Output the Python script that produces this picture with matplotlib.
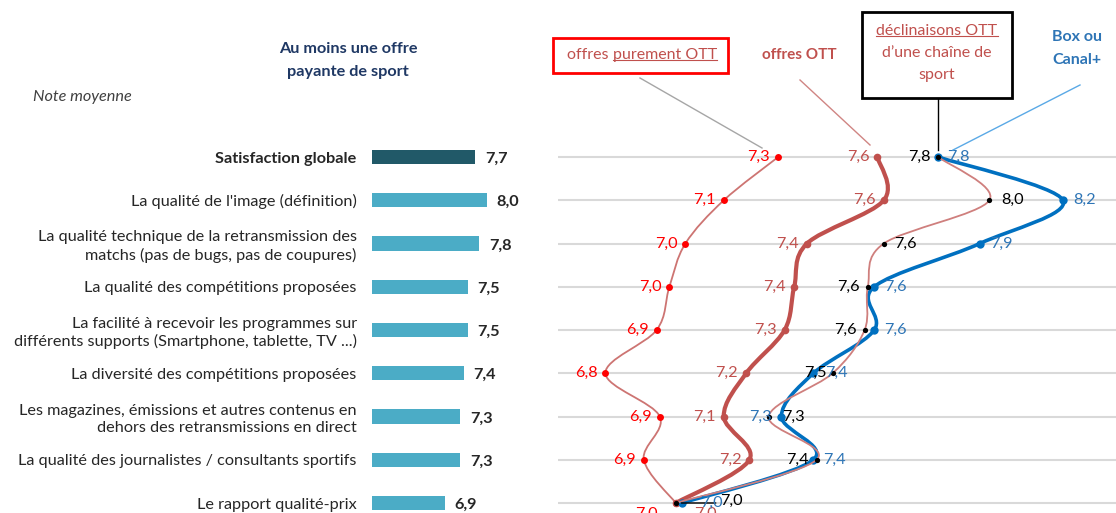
import matplotlib
matplotlib.use("Agg")
import matplotlib.pyplot as plt
from matplotlib.path import Path
from matplotlib.patches import PathPatch, Rectangle
from matplotlib.lines import Line2D
import numpy as np

# ---------------- data ----------------
categories = [
    "Satisfaction globale",
    "La qualité de l'image (définition)",
    "La qualité technique de la retransmission des\nmatchs (pas de bugs, pas de coupures)",
    "La qualité des compétitions proposées",
    "La facilité à recevoir les programmes sur\ndifférents supports (Smartphone, tablette, TV ...)",
    "La diversité des compétitions proposées",
    "Les magazines, émissions et autres contenus en\ndehors des retransmissions en direct",
    "La qualité des journalistes / consultants sportifs",
    "Le rapport qualité-prix",
]
overall = [7.7, 8.0, 7.8, 7.5, 7.5, 7.4, 7.3, 7.3, 6.9]

pure_ott = [7.31, 7.14, 7.02, 6.97, 6.93, 6.77, 6.94, 6.89, 6.99]
ott = [7.62, 7.64, 7.40, 7.36, 7.33, 7.21, 7.14, 7.22, 6.99]
declin = [7.81, 7.97, 7.64, 7.59, 7.58, 7.48, 7.28, 7.43, 6.99]
box = [7.81, 8.20, 7.94, 7.61, 7.61, 7.42, 7.32, 7.42, 7.01]

# ---------------- layout ----------------
W, H = 1116, 513
fig = plt.figure(figsize=(W / 100, H / 100), dpi=100)
plt.rcParams['font.family'] = ['Lato', 'DejaVu Sans']

FS = 11.7


def fx(px):
    return px / W


def fy(py):
    return 1 - py / H


rows = np.arange(len(categories))
ROW0, STEP = 157.0, 43.25
Y_TOP = (0 - ROW0) / STEP
Y_BOT = (H - ROW0) / STEP

# ---------------- left bar panel ----------------
BAR_PX = 38.2
axL = fig.add_axes([fx(372), 0, fx(558) - fx(372), 1])
bar_colors = ['#215968'] + ['#4bacc6'] * (len(categories) - 1)
axL.barh(rows, np.array(overall) - 5, left=5, height=0.33, color=bar_colors)
axL.set_xlim(5, 5 + 186 / BAR_PX)
axL.set_ylim(Y_BOT, Y_TOP)
axL.set_yticks(rows)
axL.set_yticklabels(categories, fontsize=FS, color='#262626', linespacing=1.25)
axL.get_yticklabels()[0].set_fontweight('bold')
axL.tick_params(axis='y', length=0, pad=11)
axL.set_xticks([])
for s in axL.spines.values():
    s.set_visible(False)
axL.patch.set_alpha(0)
for i, v in enumerate(overall):
    axL.annotate(f"{v:.1f}".replace('.', ','), xy=(v, i), xytext=(10, -2),
                 textcoords='offset pixels', ha='left', va='center',
                 fontsize=FS, fontweight='bold', color='#262626')

fig.text(fx(348), fy(49), "Au moins une offre", ha='center', va='center',
         fontsize=FS, fontweight='bold', color='#1f3864')
fig.text(fx(348), fy(72), "payante de sport", ha='center', va='center',
         fontsize=FS, fontweight='bold', color='#1f3864')
fig.text(fx(33), fy(97), "Note moyenne", ha='left', va='center',
         fontsize=FS, style='italic', color='#404040')

# ---------------- right line panel ----------------
X_PX = 320.0
X7 = 679.0
axR = fig.add_axes([fx(558), 0, 1 - fx(558), 1])
axR.set_xlim(7 + (558 - X7) / X_PX, 7 + (W - X7) / X_PX)
axR.set_ylim(Y_BOT, Y_TOP)
axR.axis('off')
axR.patch.set_alpha(0)
for r in rows:
    axR.axhline(r, color='#d9d9d9', lw=1.5, zorder=0)


def smooth_path(xs, ys):
    pts = np.column_stack([xs, ys]).astype(float)
    n = len(pts)
    verts = [pts[0]]
    codes = [Path.MOVETO]
    for i in range(n - 1):
        p0 = pts[max(i - 1, 0)]
        p1 = pts[i]
        p2 = pts[i + 1]
        p3 = pts[min(i + 2, n - 1)]
        c1 = p1 + (p2 - p0) / 6
        c2 = p2 - (p3 - p1) / 6
        verts += [c1, c2, p2]
        codes += [Path.CURVE4] * 3
    return Path(verts, codes)


series = [
    # values, line color, lw, marker color, marker size, label color, offsets, z
    (pure_ott, '#cd7472', 1.3, '#ff0000', 5.0, '#ff0000',
     [(-8, 0, 'right')] * 8 + [(-18, -11, 'right')], 3),
    (ott, '#c0504d', 3.0, '#c0504d', 5.5, '#c0504d',
     [(-8, 0, 'right')] * 8 + [(18, -11, 'left')], 4),
    (declin, '#cf7f7d', 1.3, '#000000', 3.8, '#000000',
     [(-8, 0, 'right'), (12, 0, 'left'), (10, 0, 'left'), (-8, 0, 'right'),
      (-8, 0, 'right'), (-6, 0, 'right'), (14, 0, 'left'), (-8, 0, 'right'),
      (44, 2, 'left')], 6),
    (box, '#0070c0', 2.6, '#0070c0', 6.0, '#2e75b6',
     [(9, 0, 'left'), (10, 0, 'left'), (10, 0, 'left'), (10, 0, 'left'),
      (10, 0, 'left'), (12, 0, 'left'), (-10, 0, 'right'), (10, 0, 'left'),
      (18, 0, 'left')], 5),
]

for vals, lc, lw, mc, ms, tc, offs, z in series:
    path = smooth_path(vals, rows)
    axR.add_patch(PathPatch(path, facecolor='none', edgecolor=lc, lw=lw,
                            zorder=z, capstyle='round', joinstyle='round'))
    axR.plot(vals, rows, linestyle='none', marker='o', ms=ms, color=mc,
             markeredgewidth=0, zorder=z + 0.5 if mc != '#000000' else 10)
    for i, v in enumerate(vals):
        dx, dy, ha = offs[i]
        axR.annotate(f"{v:.1f}".replace('.', ','), xy=(v, i), xytext=(dx, dy),
                     textcoords='offset pixels', ha=ha, va='center',
                     fontsize=FS, color=tc, zorder=11)

# short leader for the bottom black label
last = len(declin) - 1
axR.annotate("", xy=(declin[last], last), xytext=(40, 0),
             textcoords='offset pixels',
             arrowprops=dict(arrowstyle='-', color='black', lw=1,
                             shrinkA=0, shrinkB=4), zorder=9)

# ---------------- annotations (legend boxes) ----------------
red_box = Rectangle((fx(553), fy(73)), fx(728) - fx(553), fy(38) - fy(73),
                    transform=fig.transFigure, fill=False, edgecolor='#ff0000', lw=2)
fig.add_artist(red_box)
t1 = fig.text(fx(567), fy(55), "offres ", ha='left', va='center',
              fontsize=FS - 0.2, color='#c0504d')
t2 = fig.text(0, 0, "purement OTT", fontsize=FS - 0.2, color='#c0504d')

fig.text(fx(799), fy(55), "offres OTT", ha='center', va='center',
         fontsize=FS - 0.7, fontweight='bold', color='#c0504d')

black_box = Rectangle((fx(862), fy(98)), fx(1012) - fx(862), fy(12) - fy(98),
                      transform=fig.transFigure, fill=False, edgecolor='black', lw=2)
fig.add_artist(black_box)
t3 = fig.text(fx(937), fy(31), "déclinaisons OTT", ha='center', va='center',
              fontsize=FS - 0.2, color='#c0504d')
fig.text(fx(937), fy(53), "d\u2019une chaîne de", ha='center', va='center',
         fontsize=FS - 0.2, color='#c0504d')
fig.text(fx(937), fy(75), "sport", ha='center', va='center',
         fontsize=FS - 0.2, color='#c0504d')

fig.text(fx(1077), fy(37), "Box ou", ha='center', va='center',
         fontsize=FS - 0.2, fontweight='bold', color='#2e75b6')
fig.text(fx(1077), fy(60), "Canal+", ha='center', va='center',
         fontsize=FS - 0.2, fontweight='bold', color='#2e75b6')

leaders = [
    ((640, 78), (762, 148), '#a6a6a6'),
    ((800, 80), (870, 145), '#d08583'),
    ((938, 99), (938, 150), '#000000'),
    ((1080, 85), (953, 150), '#5aa9e6'),
]
for (x0, y0), (x1, y1), c in leaders:
    fig.add_artist(Line2D([fx(x0), fx(x1)], [fy(y0), fy(y1)],
                          transform=fig.transFigure, color=c, lw=1))

# position "purement OTT" after "offres " and underline
fig.canvas.draw()
inv = fig.transFigure.inverted()
bb1 = t1.get_window_extent().transformed(inv)
t2.set_position((bb1.x1, fy(55)))
t2.set_va('center')
fig.canvas.draw()
for t in (t2, t3):
    bb = t.get_window_extent().transformed(inv)
    fig.add_artist(Line2D([bb.x0, bb.x1], [bb.y0 + 0.004, bb.y0 + 0.004],
                          transform=fig.transFigure, color='#c0504d', lw=0.8))

fig.savefig("out.png", dpi=100)
